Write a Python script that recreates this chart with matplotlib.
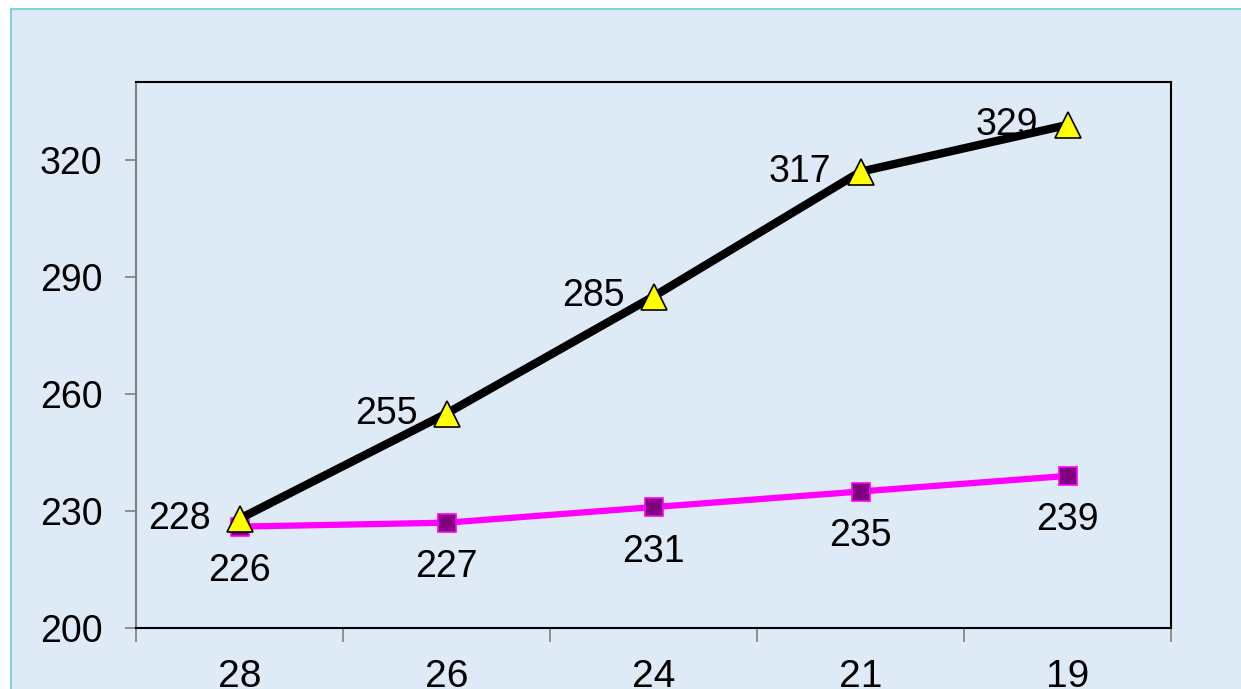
import matplotlib
matplotlib.use('Agg')
import matplotlib.pyplot as plt
from matplotlib.patches import Rectangle

plt.rcParams['font.family'] = ['Liberation Sans', 'DejaVu Sans']

# data
categories = ['28', '26', '24', '21', '19']
black_vals = [228, 255, 285, 317, 329]
pink_vals = [226, 227, 231, 235, 239]
y_ticks = [200, 230, 260, 290, 320]

W, H = 1241, 689
fig = plt.figure(figsize=(W / 100, H / 100), dpi=100)
fig.patch.set_facecolor('white')

# light blue background with teal frame on top/left
bg = Rectangle((11 / W, -0.05), 1.1, (H - 9) / H + 0.05, transform=fig.transFigure,
               facecolor='#dfeaf7', edgecolor='#7fd4d8', linewidth=1.5, zorder=-10)
fig.patches.append(bg)

ax = fig.add_axes([136 / W, (H - 628) / H, 1035 / W, 546 / H])
ax.patch.set_visible(False)

x = list(range(len(categories)))
ax.plot(x, pink_vals, color='#ff00ff', lw=4.5, marker='s', ms=13,
        mfc='#800080', mec='#ff00ff', mew=1.2, zorder=3)
ax.plot(x, black_vals, color='black', lw=6, marker='^', ms=19,
        mfc='#ffff00', mec='black', mew=1.2, zorder=4)

fs = 27
for xi, v in zip(x, black_vals):
    ax.annotate(str(v), (xi, v), xytext=(-21, 0), textcoords='offset points',
                ha='right', va='center', fontsize=fs, zorder=5)
for xi, v in zip(x, pink_vals):
    ax.annotate(str(v), (xi, v), xytext=(0, -32), textcoords='offset points',
                ha='center', va='center', fontsize=fs, zorder=5)

ax.set_xlim(-0.5, len(categories) - 0.5)
ax.set_ylim(200, 340)
ax.set_yticks(y_ticks)
ax.tick_params(axis='y', labelsize=fs, length=8, width=1.2, color='#808080', pad=16)

# major ticks between categories, labels at category centres
ax.set_xticks([i - 0.5 for i in range(len(categories) + 1)])
ax.set_xticklabels([])
ax.set_xticks(x, minor=True)
ax.set_xticklabels(categories, minor=True)
ax.tick_params(axis='x', which='major', length=10, width=1.2, color='#808080')
ax.tick_params(axis='x', which='minor', length=0, labelsize=fs + 1, pad=22)

for side in ['top', 'right', 'bottom']:
    ax.spines[side].set_color('black')
    ax.spines[side].set_linewidth(1.5)
ax.spines['left'].set_color('#808080')
ax.spines['left'].set_linewidth(1.5)

fig.savefig('out.png', dpi=100)
